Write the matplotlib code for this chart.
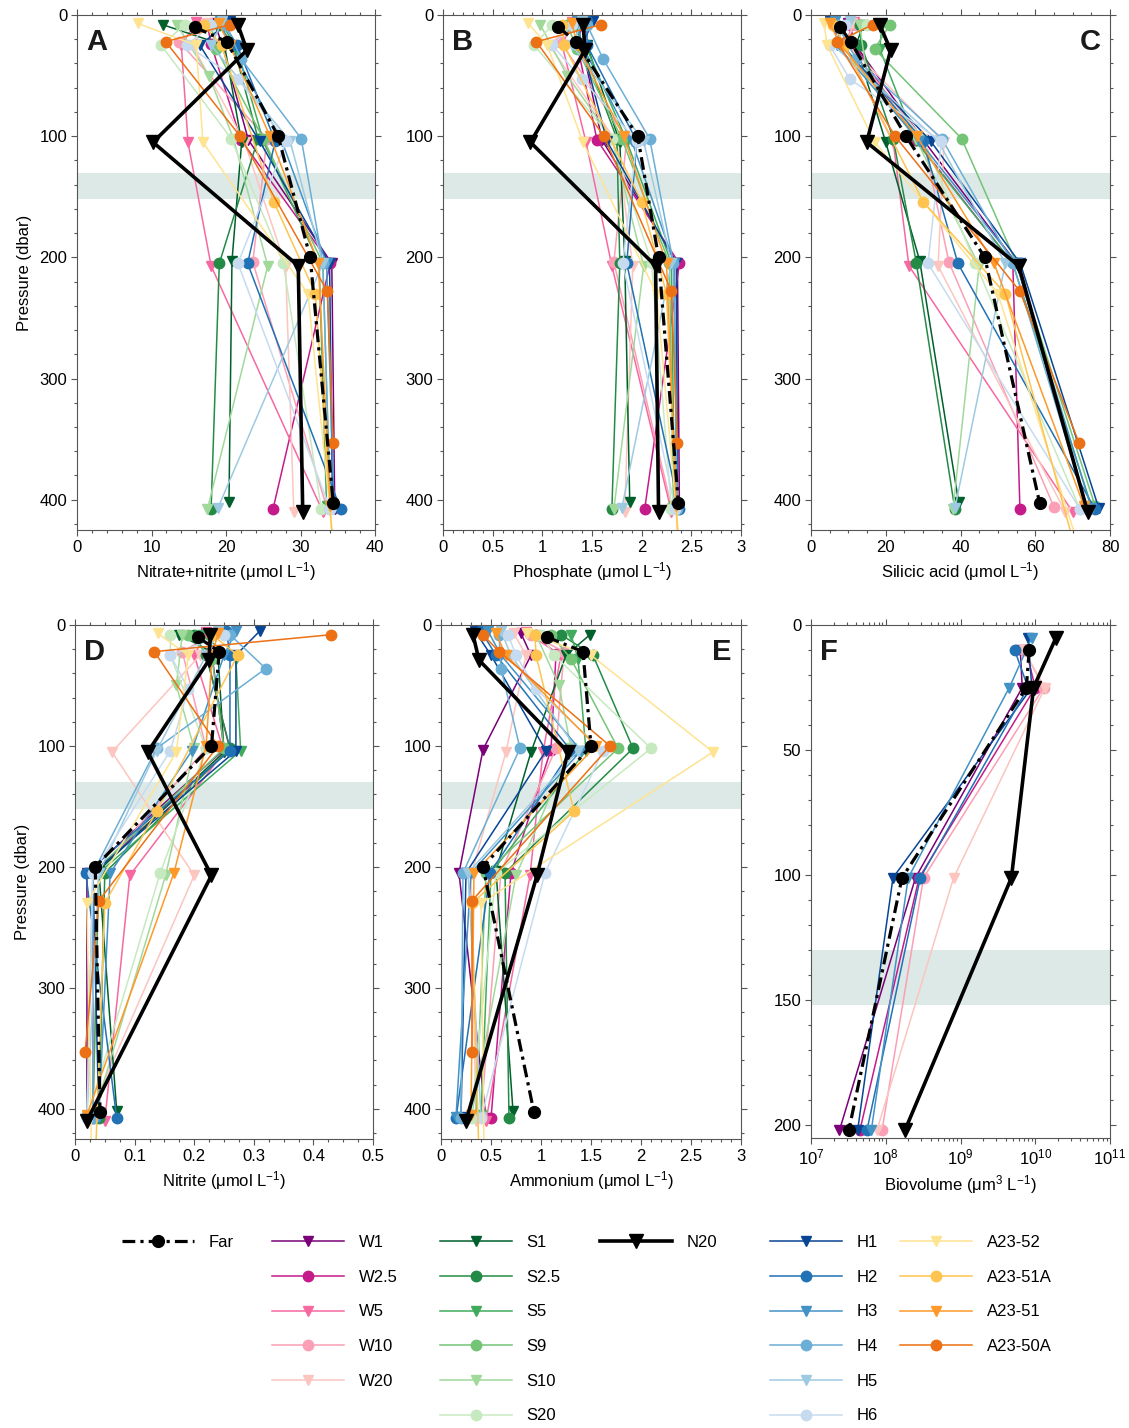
import numpy as np
import matplotlib
matplotlib.use('Agg')
import matplotlib.pyplot as plt
from matplotlib.ticker import MultipleLocator

plt.rcParams['font.family'] = ['Liberation Sans', 'DejaVu Sans']
plt.rcParams['mathtext.fontset'] = 'custom'
plt.rcParams['mathtext.rm'] = 'Liberation Sans'
plt.rcParams['mathtext.it'] = 'Liberation Sans:italic'
plt.rcParams['font.size'] = 12

# stations, in legend order
stations = ['Far', 'W1', 'W2.5', 'W5', 'W10', 'W20',
            'S1', 'S2.5', 'S5', 'S9', 'S10', 'S20', 'N20',
            'H1', 'H2', 'H3', 'H4', 'H5', 'H6',
            'A23-52', 'A23-51A', 'A23-51', 'A23-50A']
colors = ['black', '#7a0177', '#c51b8a', '#f768a1', '#fa9fb5', '#fcc5c0',
          '#00602d', '#238b45', '#41ab5d', '#74c476', '#a1d99b', '#c7e9c0', 'black',
          '#084594', '#2171b5', '#4292c6', '#6baed6', '#9ecae1', '#c6dbef',
          '#fee391', '#fec44f', '#fe9929', '#ec7014']
markers = ['o', 'v', 'o', 'v', 'o', 'v',
           'v', 'o', 'v', 'o', 'v', 'o', 'v',
           'v', 'o', 'v', 'o', 'v', 'o',
           'v', 'o', 'v', 'o']

# sampling pressures (dbar)
depth = {
    'Far': [10, 22, 100, 200, 403], 'W1': [7, 25, 103, 205, 408],
    'W2.5': [8, 24, 103, 205, 408], 'W5': [6, 25, 105, 207, 410],
    'W10': [8, 22, 102, 204, 406], 'W20': [7, 25, 105, 207, 410],
    'S1': [8, 25, 105, 203, 402], 'S2.5': [8, 25, 102, 205, 408],
    'S5': [8, 28, 104, 205, 405], 'S9': [8, 28, 102, 205, 405],
    'S10': [8, 50, 102, 207, 408], 'S20': [8, 25, 102, 205, 408],
    'N20': [8, 29, 105, 207, 410], 'H1': [5, 25, 104, 205, 407],
    'H2': [5, 25, 104, 205, 408], 'H3': [5, 25, 104, 205, 407],
    'H4': [8, 36, 102, 205, 408], 'H5': [5, 25, 104, 205, 407],
    'H6': [8, 25, 53, 104, 205, 408], 'A23-52': [7, 25, 105, 230, 500],
    'A23-51A': [8, 25, 154, 230, 500], 'A23-51': [7, 25, 100, 205, 405],
    'A23-50A': [8, 22, 100, 228, 353],
}

nitrate = {
    'Far': [15.8, 20.1, 27.0, 31.3, 34.4], 'W1': [18.5, 19.5, 23.0, 34.2, 34.6],
    'W2.5': [17.5, 18.0, 22.0, 34.0, 26.3], 'W5': [16.0, 14.0, 14.9, 18.0, 33.0],
    'W10': [17.0, 13.7, 25.5, 23.6, 33.5], 'W20': [17.5, 15.5, 22.5, 28.0, 29.1],
    'S1': [11.5, 19.8, 22.1, 20.8, 20.4], 'S2.5': [19.0, 21.0, 24.3, 19.1, 18.0],
    'S5': [19.5, 21.5, 25.0, 32.5, 33.5], 'S9': [18.0, 18.7, 25.0, 33.0, 34.0],
    'S10': [13.4, 17.7, 21.0, 25.6, 17.5], 'S20': [14.5, 11.3, 20.7, 27.7, 32.8],
    'N20': [21.6, 22.8, 10.2, 29.7, 30.3], 'H1': [20.5, 16.5, 24.5, 33.9, 34.3],
    'H2': [19.5, 21.5, 26.6, 22.9, 35.4], 'H3': [19.2, 20.5, 27.5, 33.5, 34.5],
    'H4': [20.0, 22.0, 30.1, 33.0, 34.0], 'H5': [19.5, 18.0, 28.6, 33.0, 18.9],
    'H6': [18.0, 14.7, 21.6, 28.1, 21.6, 34.0], 'A23-52': [8.2, 16.0, 16.9, 31.0, 35.5],
    'A23-51A': [17.0, 19.4, 26.4, 32.0, 35.0], 'A23-51': [19.0, 20.5, 25.9, 32.4, 34.0],
    'A23-50A': [20.5, 11.9, 21.9, 33.6, 34.4],
}

phosphate = {
    'Far': [1.16, 1.34, 1.96, 2.17, 2.37], 'W1': [1.45, 1.40, 1.60, 2.36, 2.38],
    'W2.5': [1.40, 1.35, 1.55, 2.38, 2.03], 'W5': [1.30, 1.20, 1.44, 1.70, 2.30],
    'W10': [1.35, 1.18, 1.85, 1.72, 2.30], 'W20': [1.30, 1.07, 1.75, 1.91, 1.83],
    'S1': [1.40, 1.45, 1.78, 1.83, 1.88], 'S2.5': [1.35, 1.40, 1.75, 1.78, 1.70],
    'S5': [1.30, 1.45, 1.85, 2.30, 2.33], 'S9': [1.25, 1.35, 1.80, 2.28, 2.32],
    'S10': [0.98, 1.25, 1.70, 2.02, 1.72], 'S20': [1.10, 0.92, 1.70, 2.10, 2.30],
    'N20': [1.41, 1.43, 0.88, 2.14, 2.17], 'H1': [1.51, 1.40, 1.65, 2.35, 2.36],
    'H2': [1.45, 1.45, 1.95, 1.85, 2.38], 'H3': [1.35, 1.40, 1.90, 2.33, 2.35],
    'H4': [1.45, 1.61, 2.08, 2.32, 2.36], 'H5': [1.40, 1.30, 2.02, 2.30, 1.80],
    'H6': [1.30, 1.10, 1.40, 1.95, 1.81, 2.34], 'A23-52': [0.86, 1.05, 1.41, 2.15, 2.45],
    'A23-51A': [1.20, 1.22, 2.00, 2.25, 2.40], 'A23-51': [1.30, 1.35, 1.82, 2.25, 2.35],
    'A23-50A': [1.59, 0.94, 1.62, 2.30, 2.36],
}

silicic = {
    'Far': [7.8, 10.6, 25.4, 46.5, 61.2], 'W1': [10.0, 12.0, 30.0, 55.0, 74.0],
    'W2.5': [10.5, 11.5, 28.0, 54.0, 55.9], 'W5': [11.5, 9.0, 22.0, 26.2, 70.0],
    'W10': [12.0, 9.0, 30.0, 36.9, 65.0], 'W20': [11.0, 10.0, 35.6, 34.0, 68.0],
    'S1': [14.0, 12.0, 20.0, 29.1, 39.5], 'S2.5': [13.0, 13.5, 22.0, 28.2, 38.5],
    'S5': [19.0, 18.4, 28.0, 54.0, 75.0], 'S9': [21.1, 17.0, 40.3, 55.0, 76.0],
    'S10': [13.0, 15.0, 28.0, 45.0, 38.0], 'S20': [14.9, 8.0, 30.0, 44.0, 72.0],
    'N20': [18.4, 21.3, 14.9, 55.6, 74.0], 'H1': [5.0, 8.0, 32.0, 56.0, 77.0],
    'H2': [5.9, 8.5, 30.0, 39.3, 76.0], 'H3': [6.5, 7.0, 29.0, 55.0, 75.0],
    'H4': [7.0, 12.0, 35.0, 54.0, 74.0], 'H5': [10.4, 6.0, 34.0, 52.0, 38.5],
    'H6': [9.0, 5.0, 10.4, 34.9, 31.3, 72.0], 'A23-52': [3.5, 4.3, 17.1, 50.0, 78.0],
    'A23-51A': [6.0, 9.0, 30.0, 52.0, 76.0], 'A23-51': [5.0, 8.0, 28.3, 49.0, 73.0],
    'A23-50A': [16.5, 7.0, 22.5, 55.9, 71.7],
}

nitrite = {
    'Far': [0.206, 0.242, 0.229, 0.034, 0.042], 'W1': [0.22, 0.23, 0.25, 0.02, 0.02],
    'W2.5': [0.23, 0.22, 0.26, 0.03, 0.03], 'W5': [0.22, 0.20, 0.25, 0.092, 0.05],
    'W10': [0.23, 0.18, 0.22, 0.04, 0.03], 'W20': [0.24, 0.21, 0.062, 0.20, 0.02],
    'S1': [0.175, 0.24, 0.25, 0.04, 0.07], 'S2.5': [0.20, 0.22, 0.26, 0.05, 0.04],
    'S5': [0.21, 0.27, 0.278, 0.04, 0.03], 'S9': [0.19, 0.23, 0.25, 0.03, 0.02],
    'S10': [0.18, 0.17, 0.20, 0.152, 0.03], 'S20': [0.16, 0.16, 0.22, 0.143, 0.02],
    'N20': [0.227, 0.225, 0.122, 0.229, 0.02], 'H1': [0.31, 0.27, 0.27, 0.03, 0.04],
    'H2': [0.254, 0.26, 0.26, 0.018, 0.07], 'H3': [0.27, 0.25, 0.196, 0.059, 0.04],
    'H4': [0.26, 0.32, 0.137, 0.03, 0.03], 'H5': [0.24, 0.22, 0.137, 0.04, 0.02],
    'H6': [0.25, 0.16, 0.19, 0.16, 0.03, 0.02], 'A23-52': [0.139, 0.19, 0.17, 0.02, 0.03],
    'A23-51A': [0.23, 0.273, 0.137, 0.05, 0.03], 'A23-51': [0.24, 0.23, 0.22, 0.166, 0.02],
    'A23-50A': [0.43, 0.133, 0.24, 0.04, 0.017],
}

ammonium = {
    'Far': [1.06, 1.42, 1.50, 0.42, 0.93], 'W1': [0.80, 0.90, 0.42, 0.18, 0.45],
    'W2.5': [0.95, 1.15, 1.10, 0.70, 0.50], 'W5': [0.85, 1.20, 1.02, 0.89, 0.45],
    'W10': [0.90, 1.23, 1.15, 0.60, 0.40], 'W20': [0.73, 0.85, 0.65, 0.30, 0.35],
    'S1': [1.49, 1.25, 0.90, 0.55, 0.72], 'S2.5': [1.20, 1.52, 1.92, 0.64, 0.68],
    'S5': [1.30, 1.37, 1.45, 0.50, 0.40], 'S9': [1.10, 1.30, 1.77, 0.45, 0.35],
    'S10': [0.95, 1.18, 1.30, 0.75, 0.30], 'S20': [1.00, 1.13, 2.10, 0.55, 0.30],
    'N20': [0.32, 0.38, 1.27, 0.96, 0.25], 'H1': [0.34, 0.50, 1.05, 0.25, 0.20],
    'H2': [0.40, 0.55, 1.30, 0.49, 0.15], 'H3': [0.47, 0.60, 1.40, 0.30, 0.15],
    'H4': [0.58, 0.60, 0.79, 0.22, 0.20], 'H5': [0.60, 0.70, 1.37, 0.27, 0.40],
    'H6': [0.67, 0.75, 0.95, 1.62, 1.04, 0.40], 'A23-52': [0.86, 1.50, 2.72, 0.40, 0.44],
    'A23-51A': [0.94, 0.95, 1.33, 0.31, 0.40], 'A23-51': [0.55, 0.65, 1.55, 0.33, 0.30],
    'A23-50A': [0.42, 0.58, 1.69, 0.31, 0.31],
}

# biovolume profiles only for some stations
bio_depth = {
    'Far': [10, 25, 101, 202], 'W1': [10, 25, 101, 202], 'W2.5': [10, 25, 101, 202],
    'W10': [10, 25, 101, 202], 'W20': [10, 25, 101, 202], 'H1': [5, 25, 101, 202],
    'H2': [10, 25, 101, 202], 'H3': [5, 25, 101, 202], 'N20': [5, 25, 101, 202],
}
biovolume = {
    'Far': [8.3e9, 7.6e9, 1.65e8, 3.2e7], 'W1': [6.3e9, 6.7e9, 2.5e8, 2.4e7],
    'W2.5': [7.5e9, 1.0e10, 2.8e8, 4.5e7], 'W10': [7.0e9, 1.3e10, 3.2e8, 8.9e7],
    'W20': [7.0e9, 1.35e10, 8.1e8, 7.6e7], 'H1': [8.0e9, 9.0e9, 1.25e8, 4.2e7],
    'H2': [5.3e9, 8.0e9, 2.9e8, 5.6e7], 'H3': [9.0e9, 4.5e9, 2.0e8, 6.4e7],
    'N20': [1.9e10, 9.5e9, 4.8e9, 1.8e8],
}

band = (130, 152)

W, H = 1129, 1428
fig = plt.figure(figsize=(W / 100, H / 100), dpi=100)


def px_axes(x0, x1, y0, y1):
    return fig.add_axes([x0 / W, 1 - y1 / H, (x1 - x0) / W, (y1 - y0) / H])


panels = [
    (px_axes(77, 375, 15, 530), nitrate, depth, 'Nitrate+nitrite (μmol L$^{-1}$)', (0, 40), 10, 2, 'A', 'left'),
    (px_axes(443, 741, 15, 530), phosphate, depth, 'Phosphate (μmol L$^{-1}$)', (0, 3), 0.5, 0.1, 'B', 'left'),
    (px_axes(811, 1110, 15, 530), silicic, depth, 'Silicic acid (μmol L$^{-1}$)', (0, 80), 20, 5, 'C', 'right'),
    (px_axes(75, 373, 625, 1139), nitrite, depth, 'Nitrite (μmol L$^{-1}$)', (0, 0.5), 0.1, 0.025, 'D', 'left'),
    (px_axes(441, 741, 625, 1139), ammonium, depth, 'Ammonium (μmol L$^{-1}$)', (0, 3), 0.5, 0.1, 'E', 'right'),
    (px_axes(811, 1110, 625, 1138), biovolume, bio_depth, 'Biovolume (μm$^{3}$ L$^{-1}$)', (1e7, 1e11), None, None, 'F', 'left'),
]

handles = {}
for k, (ax, data, dep, xlabel, xlim, major, minor, letter, side) in enumerate(panels):
    ax.axhspan(band[0], band[1], color='#dde9e6', lw=0, zorder=0)
    for name, col, mk in zip(stations, colors, markers):
        if name not in data:
            continue
        if name == 'Far':
            kw = dict(color='black', lw=2.3, ls=(0, (4, 1.6, 1, 1.6)), ms=8.5, zorder=5)
        elif name == 'N20':
            kw = dict(color='black', lw=2.6, ls='-', ms=9.5, zorder=4)
        else:
            kw = dict(color=col, lw=1.1, ls='-', ms=7.5, zorder=2)
        ln, = ax.plot(data[name], dep[name], marker=mk, mec=kw['color'], **kw)
        if k == 0:
            handles[name] = ln
    ax.set_xlim(*xlim)
    if letter == 'F':
        ax.set_xscale('log')
        ax.set_xlim(*xlim)
        ax.set_ylim(205, 0)
        ax.yaxis.set_major_locator(MultipleLocator(50))
        ax.yaxis.set_minor_locator(MultipleLocator(10))
    else:
        ax.set_ylim(425, 0)
        ax.yaxis.set_major_locator(MultipleLocator(100))
        ax.yaxis.set_minor_locator(MultipleLocator(20))
        ax.xaxis.set_major_locator(MultipleLocator(major))
        ax.xaxis.set_minor_locator(MultipleLocator(minor))
        if letter == 'D':
            ax.set_xticks([0, 0.1, 0.2, 0.3, 0.4, 0.5], ['0', '0.1', '0.2', '0.3', '0.4', '0.5'])
        elif major == 0.5:
            ax.set_xticks([0, 0.5, 1, 1.5, 2, 2.5, 3], ['0', '0.5', '1', '1.5', '2', '2.5', '3'])
    ax.tick_params(which='both', direction='out', top=True, right=True, labelsize=12,
                   width=0.8, color='#555555', pad=3)
    ax.tick_params(which='major', length=4)
    ax.tick_params(which='minor', length=2.2)
    for sp in ax.spines.values():
        sp.set_linewidth(0.8)
        sp.set_color('#555555')
    ax.set_xlabel(xlabel, fontsize=12, labelpad=4)
    if letter in ('A', 'D'):
        ax.set_ylabel('Pressure (dbar)', fontsize=12, labelpad=5)
    if side == 'left':
        ax.text(0.03, 0.975, letter, transform=ax.transAxes, ha='left', va='top',
                fontsize=21, fontweight='bold', color='#1a1a1a', zorder=10)
    else:
        ax.text(0.97, 0.975, letter, transform=ax.transAxes, ha='right', va='top',
                fontsize=21, fontweight='bold', color='#1a1a1a', zorder=10)

# legend: one column per station group
groups = [['Far'], ['W1', 'W2.5', 'W5', 'W10', 'W20'],
          ['S1', 'S2.5', 'S5', 'S9', 'S10', 'S20'], ['N20'],
          ['H1', 'H2', 'H3', 'H4', 'H5', 'H6'],
          ['A23-52', 'A23-51A', 'A23-51', 'A23-50A']]
group_x = [122, 272, 440, 600, 770, 900]
for grp, gx in zip(groups, group_x):
    fig.legend([handles[n] for n in grp], grp, loc='upper left',
               bbox_to_anchor=(gx / W, 1 - 1235 / H), frameon=False,
               borderpad=0, borderaxespad=0, handlelength=4.3,
               handletextpad=0.9, labelspacing=1.18, fontsize=12)

fig.savefig('out.png', dpi=100)
